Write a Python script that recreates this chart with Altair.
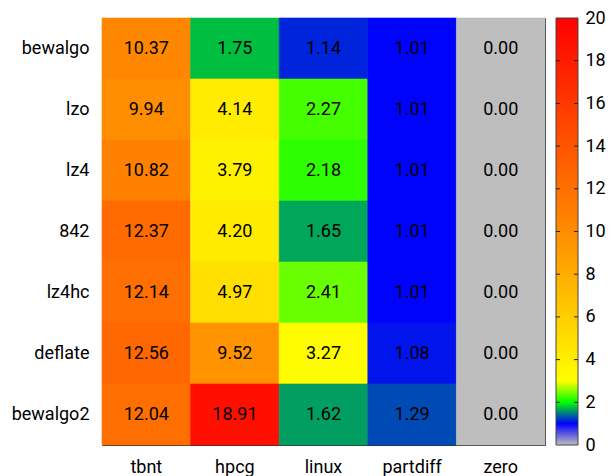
import altair as alt
import pandas as pd

FONT = "Roboto"

rows = ["bewalgo", "lzo", "lz4", "842", "lz4hc", "deflate", "bewalgo2"]
cols = ["tbnt", "hpcg", "linux", "partdiff", "zero"]

tbnt = [10.37, 9.94, 10.82, 12.37, 12.14, 12.56, 12.04]
hpcg = [1.75, 4.14, 3.79, 4.20, 4.97, 9.52, 18.91]
linux = [1.14, 2.27, 2.18, 1.65, 2.41, 3.27, 1.62]
partdiff = [1.01, 1.01, 1.01, 1.01, 1.01, 1.08, 1.29]
zero = [0.00, 0.00, 0.00, 0.00, 0.00, 0.00, 0.00]

palette_domain = [0, 1, 2, 3, 10, 20]
palette_range = ["#bebebe", "#0000ff", "#00ff00", "#ffff00", "#ff8c00", "#ff0000"]
cb_ticks = [0, 2, 4, 6, 8, 10, 12, 14, 16, 18, 20]
cb_inner_ticks = [2, 4, 6, 8, 10, 12, 14, 16, 18]

W, H = 443, 427
CB_OFFSET = 11
CB_THICK = 22
CB_MIN, CB_MAX = palette_domain[0], palette_domain[-1]

records = []
for c, vals in zip(cols, [tbnt, hpcg, linux, partdiff, zero]):
    for r, v in zip(rows, vals):
        records.append({"algo": r, "bench": c, "value": v})
df = pd.DataFrame(records)

base = alt.Chart(df).encode(
    x=alt.X(
        "bench:N",
        sort=cols,
        scale=alt.Scale(paddingInner=0, paddingOuter=0),
        axis=alt.Axis(title=None, labelAngle=0, domain=False, ticks=False,
                      labelPadding=13, labelFontSize=18, labelFont=FONT,
                      labelColor="black"),
    ),
    y=alt.Y(
        "algo:N",
        sort=rows,
        scale=alt.Scale(paddingInner=0, paddingOuter=0),
        axis=alt.Axis(title=None, domain=False, ticks=False,
                      labelPadding=13, labelFontSize=18, labelFont=FONT,
                      labelColor="black"),
    ),
)

heat_scale = alt.Scale(domain=palette_domain, range=palette_range, interpolate="rgb")
rect = base.mark_rect(strokeWidth=0.6).encode(
    color=alt.Color("value:Q", scale=heat_scale, legend=None),
    stroke=alt.Stroke("value:Q", scale=heat_scale, legend=None),
)

text = base.mark_text(fontSize=18, font=FONT, color="black").encode(
    text=alt.Text("value:Q", format=".2f")
)

# colour bar drawn as a gradient-filled rect on its own value scale
grad = alt.LinearGradient(
    gradient="linear",
    stops=[
        alt.GradientStop(color=c, offset=(d - CB_MIN) / (CB_MAX - CB_MIN))
        for d, c in zip(palette_domain, palette_range)
    ],
    x1=0, x2=0, y1=1, y2=0,
)
cb_scale = alt.Scale(domain=[CB_MIN, CB_MAX], nice=False, zero=False)
cb_df = pd.DataFrame({"lo": [CB_MIN], "hi": [CB_MAX]})
colorbar = alt.Chart(cb_df).mark_rect(
    color=grad, stroke="#444444", strokeWidth=1
).encode(
    y=alt.Y("lo:Q", scale=cb_scale,
            axis=alt.Axis(orient="right", offset=CB_OFFSET + CB_THICK, values=cb_ticks,
                          domain=False, ticks=False, tickSize=0, labelPadding=7,
                          labelFontSize=18, labelFont=FONT, labelColor="black",
                          grid=False, title=None)),
    y2="hi:Q",
    x=alt.value(W + CB_OFFSET),
    x2=alt.value(W + CB_OFFSET + CB_THICK),
)

tick_df = pd.DataFrame({"v": cb_inner_ticks})
ticks_left = alt.Chart(tick_df).mark_rule(color="#222222", strokeWidth=1).encode(
    y=alt.Y("v:Q", scale=cb_scale),
    x=alt.value(W + CB_OFFSET),
    x2=alt.value(W + CB_OFFSET + 4),
)
ticks_right = alt.Chart(tick_df).mark_rule(color="#222222", strokeWidth=1).encode(
    y=alt.Y("v:Q", scale=cb_scale),
    x=alt.value(W + CB_OFFSET + CB_THICK - 4),
    x2=alt.value(W + CB_OFFSET + CB_THICK),
)

chart = alt.layer(
    alt.layer(rect, text),
    alt.layer(colorbar, ticks_left, ticks_right),
).resolve_scale(y="independent").properties(
    width=W,
    height=H,
    padding={"left": 94, "top": 10, "right": 62, "bottom": 31},
    autosize=alt.AutoSizeParams(type="none"),
).configure_view(stroke="#333333", strokeWidth=1)

chart.save("out.html", embed_options={"renderer": "svg", "actions": False})
